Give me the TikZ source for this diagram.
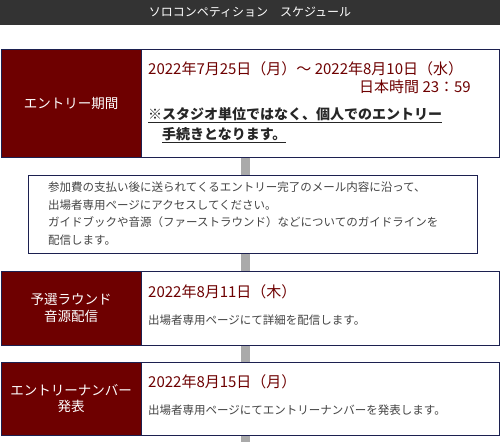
\documentclass[tikz,border=0pt]{standalone}
\usepackage{fontspec}
\setmainfont{Noto Sans CJK JP}
\definecolor{hdr}{HTML}{333333}
\definecolor{wine}{HTML}{6E0000}
\definecolor{navy}{HTML}{1C2050}
\definecolor{spinegray}{HTML}{AAAAAA}
\definecolor{txtgray}{HTML}{444444}
\tikzset{
  frame/.style={draw=navy, line width=1pt, fill=white, inner sep=0pt, anchor=north west},
  redcell/.style={draw=navy, line width=1pt, fill=wine, text=white, inner sep=0pt, anchor=north west,
    minimum width=140pt, align=center, font=\fontsize{13.5}{16.5}\selectfont},
  datetext/.style={text=wine, inner sep=0pt, font=\fontsize{15}{18}\selectfont},
  notetext/.style={text=black!85, inner sep=0pt, font=\fontsize{14}{17}\selectfont\bfseries},
  bodytext/.style={text=txtgray, inner sep=0pt, align=left, font=\fontsize{11.5}{17.5}\selectfont},
  spine/.style={draw=spinegray, line width=9pt}
}
\begin{document}
\begin{tikzpicture}[x=1pt,y=-1pt]
\useasboundingbox (0,0) rectangle (500,442);
\fill[white] (0,0) rectangle (500,442);
% header
\fill[hdr] (0,0) rectangle (500,25);
\node[text=white, inner sep=0pt, font=\fontsize{12}{14}\selectfont] (title) at (250,12.5) {ソロコンペティション　スケジュール};
% spine reference
\coordinate (sp) at (245.5,0);
\coordinate (spend) at (245.5,442);
% box 1
\node[frame, minimum width=498pt, minimum height=108pt] (b1) at (0.5,48.5) {};
\node[redcell, minimum height=108pt] (r1) at (0.5,48.5) {エントリー期間};
\node[datetext, anchor=west] (d1) at (148,69) {2022年7月25日（月）～ 2022年8月10日（水）};
\node[datetext, anchor=east] (t1) at (471,87) {日本時間 23：59};
\node[notetext, anchor=west] (n1) at (148,115) {\underline{※スタジオ単位ではなく、個人でのエントリー}};
\node[notetext, anchor=west] (n2) at (162,135) {\underline{手続きとなります。}};
% box 2
\node[frame, minimum width=449pt, minimum height=78pt] (b2) at (27.5,174.5) {};
\node[bodytext, anchor=west] (m2) at (48,213.5) {参加費の支払い後に送られてくるエントリー完了のメール内容に沿って、\\出場者専用ページにアクセスしてください。\\ガイドブックや音源（ファーストラウンド）などについてのガイドラインを\\配信します。};
% box 3
\node[frame, minimum width=498pt, minimum height=74pt] (b3) at (0.5,270.5) {};
\node[redcell, minimum height=74pt] (r3) at (0.5,270.5) {予選ラウンド\\音源配信};
\node[datetext, anchor=west] (d3) at (148,292) {2022年8月11日（木）};
\node[bodytext, anchor=west] (m3) at (148,320) {出場者専用ページにて詳細を配信します。};
% box 4
\node[frame, minimum width=498pt, minimum height=73pt] (b4) at (0.5,361.5) {};
\node[redcell, minimum height=73pt] (r4) at (0.5,361.5) {エントリーナンバー\\発表};
\node[datetext, anchor=west] (d4) at (148,382) {2022年8月15日（月）};
\node[bodytext, anchor=west] (m4) at (148,410) {出場者専用ページにてエントリーナンバーを発表します。};
% connectors
\draw[spine] (b1.south -| sp) -- (b2.north -| sp);
\draw[spine] (b2.south -| sp) -- (b3.north -| sp);
\draw[spine] (b3.south -| sp) -- (b4.north -| sp);
\draw[spine] (b4.south -| sp) -- (spend);
\end{tikzpicture}
\end{document}
